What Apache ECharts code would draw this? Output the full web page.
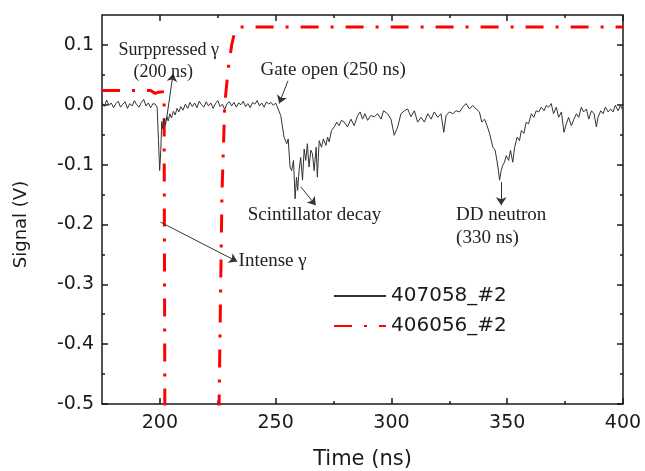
<!DOCTYPE html>
<html>
<head>
<meta charset="utf-8">
<script src="https://cdn.jsdelivr.net/npm/echarts@6/dist/echarts.min.js"></script>
<style>
  html, body { margin: 0; padding: 0; background: #fff; }
  #main { width: 645px; height: 471px; }
</style>
</head>
<body>
<div id="main"></div>
<script>
// signal 407058_#2 : [time ns, volts]
const signal407058 = [
  [175, 0.004], [176, -0.003], [177, 0.008], [178, -0.001], [179, 0.003], [180, -0.005],
  [181, 0.002], [182, 0.006], [183, -0.004], [184, 0.001], [185, 0.005], [186, -0.006],
  [187, 0.002], [188, -0.002], [189, 0.007], [190, 0.000], [191, -0.004], [192, 0.004],
  [193, 0.009], [194, -0.002], [195, 0.003], [196, -0.005], [197, 0.002], [198, 0.001],
  [198.8, -0.004], [199.4, -0.06], [199.9, -0.11], [200.4, -0.075], [200.8, -0.028],
  [201.3, -0.04], [201.8, -0.022], [202.4, -0.034], [203, -0.02], [203.6, -0.027],
  [204.3, -0.015], [205, -0.022], [205.8, -0.011], [206.6, -0.017], [207.4, -0.006],
  [208.2, -0.012], [209, -0.003], [210, -0.009], [211, 0.001], [212, -0.006], [213, 0.004],
  [214, -0.003], [215, 0.003], [216, -0.005], [217, 0.006], [218, 0.000], [219, -0.004],
  [220, 0.005], [221, -0.002], [222, 0.003], [223, -0.006], [224, 0.002], [225, 0.007],
  [226, -0.003], [227, 0.001], [228, -0.008], [229, 0.002], [230, 0.005], [231, -0.002],
  [232, 0.004], [233, -0.004], [234, 0.003], [235, 0.000], [236, 0.006], [237, -0.003],
  [238, 0.002], [239, -0.005], [240, 0.004], [241, 0.001], [242, 0.007], [243, -0.002],
  [244, 0.003], [245, -0.004], [246, 0.005], [247, 0.001], [248, 0.004], [249, -0.001],
  [250, 0.003], [250.7, 0.001],
  [252.2, -0.018], [253.6, -0.054], [254.8, -0.065], [255.4, -0.057], [256.2, -0.104],
  [256.9, -0.110], [257.7, -0.093], [258.4, -0.157], [259.0, -0.121], [259.5, -0.143],
  [260.1, -0.110], [260.8, -0.088], [261.6, -0.126], [262.3, -0.074], [263.0, -0.093],
  [263.7, -0.065], [264.4, -0.104], [265.2, -0.076], [265.9, -0.082], [266.6, -0.110],
  [267.5, -0.071], [268.0, -0.121], [268.8, -0.060], [269.8, -0.071], [270.6, -0.057],
  [271.7, -0.068], [272.4, -0.054], [273.1, -0.062], [274.1, -0.043], [275.3, -0.037],
  [276.4, -0.029], [277.4, -0.035], [278.4, -0.026], [279.6, -0.029], [281.0, -0.037],
  [282.5, -0.024], [283.9, -0.035], [285.4, -0.018], [286.5, -0.012], [287.5, -0.024],
  [288.5, -0.015], [289.7, -0.026], [291.1, -0.018], [292.6, -0.020], [294.0, -0.015],
  [295.5, -0.024], [296.6, -0.010], [298.3, -0.015], [299.8, -0.024], [301.2, -0.051],
  [302.7, -0.037], [304.1, -0.015], [305.6, -0.010], [307.0, -0.007], [308.4, -0.020],
  [309.9, -0.010], [311.3, -0.029],
  [312.8, -0.021], [314.2, -0.029], [315.7, -0.015], [317.1, -0.024], [318.5, -0.012],
  [320.0, -0.021], [321.4, -0.015], [322.6, -0.046], [323.6, -0.018], [325.0, -0.012],
  [326.5, -0.015], [327.9, -0.010], [329.4, -0.012], [330.8, -0.004], [332.2, 0.002],
  [333.7, -0.007], [335.1, -0.001], [336.6, -0.007], [338.0, -0.012], [339.0, -0.029],
  [340.2, -0.024], [341.3, -0.035], [342.4, -0.048], [343.8, -0.071], [344.8, -0.076],
  [346.0, -0.104], [346.7, -0.126], [347.4, -0.110], [348.1, -0.101], [348.8, -0.096],
  [349.6, -0.085], [350.6, -0.093], [351.4, -0.076], [352.4, -0.096], [353.2, -0.071],
  [354.3, -0.054], [355.3, -0.060], [356.1, -0.043], [357.2, -0.048], [358.2, -0.029],
  [359.2, -0.032], [360.4, -0.015], [361.5, -0.021], [362.5, -0.010], [363.6, -0.012],
  [364.7, -0.004], [365.9, -0.010], [366.9, -0.001], [367.9, -0.004], [369.0, 0.002],
  [370.0, -0.015], [371.2, -0.004], [372.2, -0.021], [373.4, -0.012], [374.5, -0.046],
  [375.5, -0.032], [376.5, -0.021], [377.7, -0.035], [378.8, -0.024], [379.9, -0.015],
  [380.9, -0.021], [382.0, -0.004], [383.0, -0.012], [384.2, -0.007], [385.2, -0.024],
  [386.4, -0.010], [387.5, -0.015], [388.5, -0.037], [389.2, -0.021], [390.4, -0.010],
  [391.4, -0.015], [392.4, -0.004], [393.6, -0.012], [394.7, -0.007], [395.7, -0.012],
  [396.7, -0.001], [397.9, -0.010], [398.9, -0.001], [399.6, -0.007]
];

// gate signal 406056_#2
const signal406056 = [
  [175, 0.024], [196, 0.024], [198, 0.019], [199.5, 0.021], [201.8, 0.022], [202.2, -0.6],
  [225.2, -0.6], [226.8, -0.15], [228, 0.0], [229.5, 0.06], [231, 0.1], [232.5, 0.125],
  [234, 0.13], [400, 0.13]
];

const seriesNames = ['407058_#2', '406056_#2'];

const xMajor = [200, 250, 300, 350, 400];
const xMinor = [225, 275, 325, 375];
const yMajor = [-0.5, -0.4, -0.3, -0.2, -0.1, 0.0, 0.1];
const yMinor = [-0.45, -0.35, -0.25, -0.15, -0.05, 0.05];

// annotation texts: [text, time, volts] (left edge, vertical middle)
const noteTexts = [
  ['Surppressed γ', 182.1, 0.0905],
  ['(200 ns)', 188.6, 0.0546],
  ['Gate open (250 ns)', 243.5, 0.058],
  ['Scintillator decay', 237.9, -0.185],
  ['DD neutron', 327.9, -0.185],
  ['(330 ns)', 327.9, -0.222],
  ['Intense γ', 234.0, -0.261]
];

// annotation arrows: [from time, from volts, to time, to volts]
const noteArrows = [
  [202.8, -0.026, 205.7, 0.052],
  [255.3, 0.040, 251.5, 0.002],
  [260.8, -0.137, 267.3, -0.168],
  [347.4, -0.129, 347.4, -0.168],
  [200.2, -0.196, 233.4, -0.262]
];

const ink = '#1a1a1a';
const sans = 'DejaVu Sans';
const serif = 'Liberation Serif';

function tickAxis(kind, pos, values, len, opts) {
  const ax = {
    type: 'value',
    position: pos,
    min: kind === 'x' ? 175 : -0.5,
    max: kind === 'x' ? 400 : 0.15,
    axisLine: { show: false, onZero: false },
    splitLine: { show: false },
    axisTick: { show: true, inside: true, length: len, customValues: values,
      lineStyle: { color: ink, width: 1.5 } },
    axisLabel: { show: false }
  };
  return Object.assign(ax, opts || {});
}

let myChart = echarts.init(document.getElementById('main'));

let option = {
  animation: false,
  textStyle: { fontFamily: sans },
  grid: {
    left: 102, right: 22, top: 15, bottom: 67,
    outerBoundsMode: 'none',
    show: true, borderColor: ink, borderWidth: 1.5, backgroundColor: 'transparent'
  },
  legend: {
    data: seriesNames,
    orient: 'vertical',
    left: 333, top: 286, padding: 0,
    itemWidth: 52, itemHeight: 14, itemGap: 10,
    itemStyle: { opacity: 0 },
    textStyle: { fontFamily: sans, fontSize: 20, color: ink }
  },
  xAxis: [
    tickAxis('x', 'bottom', xMajor, 6, {
      axisLabel: { show: true, customValues: xMajor, margin: 10,
        fontFamily: sans, fontSize: 19, color: ink },
      name: 'Time (ns)', nameLocation: 'middle', nameGap: 45,
      nameTextStyle: { fontFamily: sans, fontSize: 21, color: ink }
    }),
    tickAxis('x', 'bottom', xMinor, 3),
    tickAxis('x', 'top', xMajor, 6),
    tickAxis('x', 'top', xMinor, 3)
  ],
  yAxis: [
    tickAxis('y', 'left', yMajor, 6, {
      axisLabel: { show: true, customValues: yMajor, margin: 8,
        fontFamily: sans, fontSize: 19, color: ink,
        formatter: v => v.toFixed(1) },
      name: 'Signal (V)', nameLocation: 'middle', nameGap: 72,
      nameTextStyle: { fontFamily: sans, fontSize: 18, color: ink, padding: [0, 30, 0, 0] }
    }),
    tickAxis('y', 'left', yMinor, 3),
    tickAxis('y', 'right', yMajor, 6),
    tickAxis('y', 'right', yMinor, 3)
  ],
  series: [
    {
      name: seriesNames[0],
      type: 'line',
      data: signal407058,
      showSymbol: false, symbol: 'none',
      lineStyle: { color: '#333', width: 1 },
      itemStyle: { color: '#333' },
      z: 3,
      markLine: {
        silent: true,
        symbol: ['none', 'arrow'],
        symbolSize: 8,
        label: { show: false },
        lineStyle: { color: '#333', width: 1, type: 'solid' },
        emphasis: { disabled: true },
        data: noteArrows.map(a => [{ coord: [a[0], a[1]] }, { coord: [a[2], a[3]] }])
      },
      markPoint: {
        silent: true,
        symbol: 'circle', symbolSize: 0,
        label: {
          show: true, position: 'inside', align: 'left', verticalAlign: 'middle',
          fontFamily: serif, fontSize: 19, color: '#222',
          formatter: p => p.name
        },
        data: noteTexts.map((n, i) => ({
          name: n[0], coord: [n[1], n[2]],
          label: i < 2 ? { fontSize: 18 } : undefined
        }))
      }
    },
    {
      name: seriesNames[1],
      type: 'line',
      data: signal406056,
      showSymbol: false, symbol: 'none',
      lineStyle: { color: '#ff0000', width: 3, type: [18, 12, 3, 12] },
      itemStyle: { color: '#ff0000' },
      z: 2
    }
  ]
};

myChart.setOption(option);
</script>
</body>
</html>
